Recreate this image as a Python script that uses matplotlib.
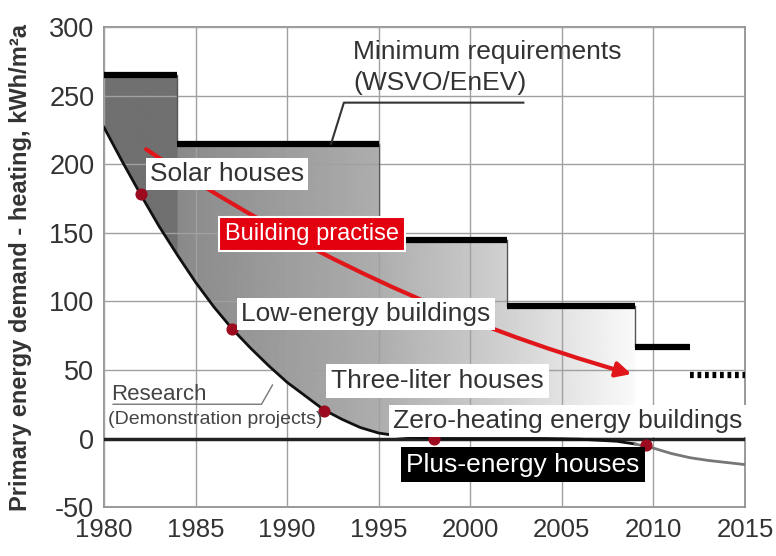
import matplotlib
matplotlib.use("Agg")
import matplotlib.pyplot as plt
import numpy as np
from matplotlib.path import Path as MplPath
from matplotlib.patches import PathPatch

plt.rcParams["font.family"] = ["Liberation Sans", "DejaVu Sans"]
plt.rcParams["axes.unicode_minus"] = False

# Minimum requirements (WSVO/EnEV) steps
step_starts = [1980, 1984, 1995, 2002, 2009, 2012]
step_ends = [1984, 1995, 2002, 2009, 2012, 2015]
step_values = [265, 215, 145, 97, 67, 46]

# Research (demonstration projects) curve
research_years = [1980, 1981, 1982, 1983, 1984, 1985, 1986, 1987, 1988, 1989,
                  1990, 1991, 1992, 1993, 1994, 1995, 1996, 1997, 1998, 2000,
                  2002, 2004, 2006, 2008, 2009, 2010, 2011, 2012, 2013, 2014, 2015]
research_values = [227, 202, 178, 155, 134, 114, 96, 80, 66, 53,
                   41, 31, 21, 14, 8, 4, 2, 1, 0, 0,
                   0, 0, -0.5, -2, -4, -7, -11, -14, -16, -17.5, -19]

# milestones on the research curve
milestone_years = [1982, 1987, 1992, 1998, 2009.6]
milestone_values = [178, 80, 20, 0, -5]

# shading of the gap between requirements and research (gray level per year)
shade_years = [1980, 1984, 1984.01, 1995, 2002, 2009]
shade_gray = [0.44, 0.44, 0.54, 0.68, 0.82, 0.98]

fig = plt.figure(figsize=(7.76, 5.56), dpi=100)
ax = fig.add_axes([0.134, 0.088, 0.826, 0.863])
ax.set_xlim(1980, 2015)
ax.set_ylim(-50, 300)

# gradient fill clipped to the area between steps and curve (up to 2009)
shade_steps = 4
top_x, top_y = [], []
for s, e, v in zip(step_starts[:shade_steps], step_ends[:shade_steps], step_values[:shade_steps]):
    top_x += [s, e]
    top_y += [v, v]
bot = [(x, y) for x, y in zip(research_years, research_values) if x <= 2009]
verts = list(zip(top_x, top_y)) + bot[::-1] + [(top_x[0], top_y[0])]
clip = PathPatch(MplPath(verts), facecolor="none", edgecolor="none")
ax.add_patch(clip)
gx = np.linspace(1980, 2009, 600)
gvals = np.interp(gx, shade_years, shade_gray)
img = ax.imshow(gvals[np.newaxis, :], extent=[1980, 2009, -10, 270], aspect="auto",
                cmap="gray", vmin=0, vmax=1, zorder=1, interpolation="bilinear")
img.set_clip_path(clip)

ax.grid(True, color="#a0a0a0", linewidth=1.0, zorder=2)
ax.set_axisbelow(False)
for g in ax.get_xgridlines() + ax.get_ygridlines():
    g.set_zorder(2)

# zero line
ax.axhline(0, color="#222222", linewidth=2.5, zorder=3)

# step lines
for i, (s, e, v) in enumerate(zip(step_starts, step_ends, step_values)):
    ls = (0, (0.6, 0.6)) if i == len(step_starts) - 1 else "-"
    ax.plot([s, e], [v, v], color="black", linewidth=4.5, linestyle=ls,
            solid_capstyle="butt", zorder=4)
    if i + 1 < len(step_starts) and i < shade_steps:
        ax.plot([e, e], [step_values[i + 1], v], color="#555555", linewidth=1, zorder=3)

# research curve
split = research_years.index(2009)
ax.plot(research_years[:split + 1], research_values[:split + 1], color="#111111",
        linewidth=2, zorder=4)
ax.plot(research_years[split:], research_values[split:], color="#777777",
        linewidth=2, zorder=4)
ax.scatter(milestone_years, milestone_values, s=60, color="#9b0a1e", zorder=6)

# building practise arrow
ax.annotate("", xy=(2008.8, 47), xytext=(1982.3, 211),
            arrowprops=dict(arrowstyle="-|>,head_length=0.9,head_width=0.45",
                            color="#e0161b", linewidth=3,
                            connectionstyle="arc3,rad=0.08", shrinkA=0, shrinkB=0),
            zorder=5)

white_box = dict(boxstyle="square,pad=0.15", facecolor="white", edgecolor="none")
fs = 19
ax.text(1982.5, 193, "Solar houses", fontsize=fs, color="#333333", va="center",
        bbox=white_box, zorder=7)
ax.text(1987.5, 91, "Low-energy buildings", fontsize=fs, color="#333333", va="center",
        bbox=white_box, zorder=7)
ax.text(1992.4, 42, "Three-liter houses", fontsize=fs, color="#333333", va="center",
        bbox=dict(boxstyle="square,pad=0.2", facecolor="white", edgecolor="none"), zorder=7)
ax.text(1995.8, 13, "Zero-heating energy buildings", fontsize=fs, color="#333333",
        va="center", bbox=white_box, zorder=7)
ax.text(1996.5, -19, "Plus-energy houses", fontsize=fs, color="white", va="center",
        bbox=dict(boxstyle="square,pad=0.2", facecolor="black", edgecolor="none"), zorder=7)
ax.text(1986.6, 149, "Building practise", fontsize=17, color="white", va="center",
        bbox=dict(boxstyle="square,pad=0.25", facecolor="#e3000f", edgecolor="white",
                  linewidth=1.5), zorder=7)

# minimum requirements label with leader
ax.text(1993.6, 282, "Minimum requirements", fontsize=fs, color="#333333", va="center", zorder=7)
ax.text(1993.6, 259, "(WSVO/EnEV)", fontsize=fs, color="#333333", va="center", zorder=7)
ax.plot([2002.9, 1993.1, 1992.4], [245, 245, 215], color="#333333", linewidth=1.5, zorder=7)

# research label with leader
ax.text(1980.4, 32, "Research", fontsize=16, color="#444444", va="center", zorder=7)
ax.text(1980.2, 14, "(Demonstration projects)", fontsize=14, color="#444444",
        va="center", zorder=7)
ax.plot([1980.5, 1988.6, 1989.2], [25, 25, 39], color="#777777", linewidth=1, zorder=7)

ax.set_xticks(range(1980, 2016, 5))
ax.set_yticks(range(-50, 301, 50))
ax.tick_params(length=0, labelsize=19.5, labelcolor="#333333")
ax.tick_params(axis="x", pad=8, labelsize=18.5)
ax.tick_params(axis="y", pad=7)
for sp in ax.spines.values():
    sp.set_color("#888888")
    sp.set_linewidth(1.2)

fig.text(0.026, 0.518, "Primary energy demand - heating, kWh/m\u00b2a", rotation=90,
         fontsize=17, fontweight="bold", color="#333333", ha="center", va="center")

fig.savefig("out.png", dpi=100)
